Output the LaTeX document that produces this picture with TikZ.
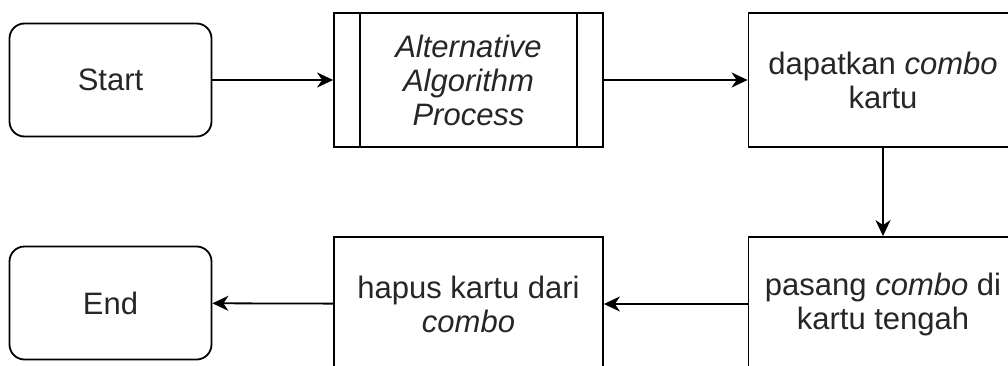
\documentclass[tikz,border=0pt]{standalone}
\usepackage{fontspec}
\setmainfont{Liberation Sans}
\usetikzlibrary{arrows.meta}
\begin{document}
\begin{tikzpicture}[x=1pt,y=1pt,
  every node/.style={font=\fontsize{31}{34}\selectfont, text=black!85, align=center, inner sep=0pt},
  term/.style={draw, line width=1.8pt, rounded corners=15pt, minimum width=202pt, minimum height=113pt},
  proc/.style={draw, line width=1.8pt, minimum width=269pt, minimum height=134pt},
  flow/.style={draw, line width=1.8pt, -{Stealth[length=16pt,width=15pt,inset=5pt]}}
]
\useasboundingbox (0,0) rectangle (1008,365);
\clip (0,0) rectangle (1008,365);
% y_tikz = 365 - y_px
\node[term] (start) at (110.5,285) {Start};
\node[proc] (alg) at (468.5,285) {\textit{Alternative}\\\textit{Algorithm}\\\textit{Process}};
\draw[line width=1.8pt] ([xshift=27pt]alg.north west) -- ([xshift=27pt]alg.south west);
\draw[line width=1.8pt] ([xshift=-27pt]alg.north east) -- ([xshift=-27pt]alg.south east);
\node[proc] (combo) at (883,285) {dapatkan \textit{combo}\\kartu};
\node[proc] (pasang) at (883,61) {pasang \textit{combo} di\\kartu tengah};
\node[proc] (hapus) at (468.5,61) {hapus kartu dari\\\textit{combo}};
\node[term] (end) at (110.5,62) {End};
\draw[flow] (start) -- (alg);
\draw[flow] (alg) -- (combo);
\draw[flow] (combo) -- (pasang);
\draw[flow] (pasang) -- (hapus);
\draw[flow] (hapus) -- (end);
\end{tikzpicture}
\end{document}
